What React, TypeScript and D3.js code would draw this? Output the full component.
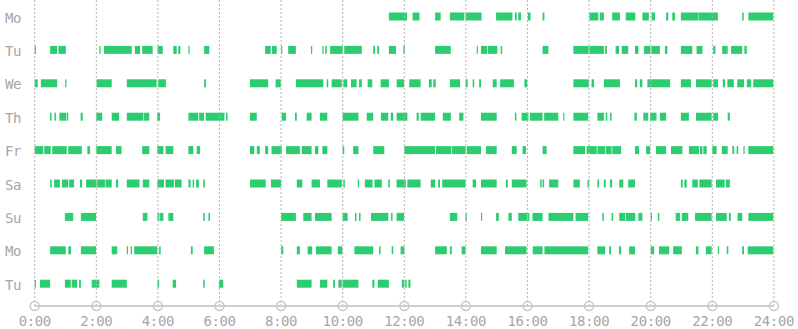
import React from "react";
import * as d3 from "d3";

const dayLabels = ["Mo", "Tu", "We", "Th", "Fr", "Sa", "Su", "Mo", "Tu"];
const tickHours = [0, 2, 4, 6, 8, 10, 12, 14, 16, 18, 20, 22, 24];
const tickLabels = ["0:00", "2:00", "4:00", "6:00", "8:00", "10:00", "12:00", "14:00", "16:00", "18:00", "20:00", "22:00", "24:00"];

const monday1 = [[11.50,12.09],[12.27,12.49],[13.00,13.18],[13.48,13.95],[13.99,14.51],[14.98,15.51],[15.59,15.65],[15.70,15.79],[16.01,16.10],[16.49,16.55],[18.01,18.30],[18.35,18.48],[18.75,19.00],[19.19,19.50],[19.73,19.94],[20.03,20.14],[20.50,20.57],[20.70,20.79],[20.98,21.55],[21.56,22.18],[22.97,23.02],[23.17,23.98]];
const tuesday1 = [[0,0.04],[0.50,0.73],[0.77,1.01],[2.10,2.14],[2.25,3.15],[3.25,3.42],[3.49,3.83],[3.99,4.16],[4.50,4.61],[4.66,4.73],[4.99,5.03],[5.50,5.67],[7.48,7.66],[7.70,7.86],[8.00,8.04],[8.23,8.48],[8.97,9.01],[9.34,9.38],[9.43,9.48],[9.59,10.00],[10.05,10.62],[10.99,11.05],[11.12,11.18],[11.50,11.73],[11.97,12.02],[13.00,13.51],[14.35,14.39],[14.49,14.69],[14.71,15.02],[15.13,15.18],[16.49,16.68],[17.49,17.99],[18.01,18.48],[18.52,18.58],[18.86,18.97],[19.06,19.27],[19.49,19.60],[19.78,19.99],[20.02,20.30],[20.46,20.54],[20.98,21.35],[21.49,21.68],[22.03,22.10],[22.32,22.50],[22.61,22.97],[23.04,23.12]];
const wednesday1 = [[0,0.10],[0.20,0.73],[0.99,1.03],[2.01,2.50],[2.99,3.96],[4.01,4.26],[5.50,5.56],[6.99,7.58],[7.82,7.99],[8.48,9.37],[9.48,9.53],[9.64,9.97],[10.02,10.15],[10.27,10.45],[10.53,10.62],[10.81,10.96],[11.23,11.50],[11.75,11.99],[12.16,12.53],[12.80,12.89],[12.94,13.02],[13.48,13.81],[13.99,14.06],[14.22,14.27],[14.43,14.49],[14.87,15.00],[15.11,15.56],[15.90,15.99],[17.49,17.99],[18.08,18.16],[18.48,19.00],[19.49,19.56],[19.65,19.73],[19.89,20.63],[20.98,21.31],[21.47,21.98],[22.03,22.19],[22.34,22.41],[22.49,22.70],[22.81,23.03],[23.12,23.26],[23.33,23.98]];
const thursday1 = [[0.50,0.55],[0.64,0.69],[0.80,1.02],[1.04,1.09],[1.49,1.56],[2.00,2.19],[2.50,2.74],[2.99,3.53],[3.55,3.72],[3.98,4.07],[4.99,5.31],[5.34,5.50],[5.55,6.16],[6.21,6.26],[6.99,7.21],[8.02,8.16],[8.45,8.51],[8.83,8.99],[9.26,9.50],[10.00,10.51],[10.78,10.99],[11.24,11.48],[11.56,11.64],[11.75,12.10],[12.40,12.47],[12.53,13.00],[13.25,13.51],[13.78,13.92],[14.49,15.00],[15.59,15.64],[15.81,16.03],[16.08,16.49],[16.54,17.00],[17.16,17.19],[17.49,17.97],[18.27,18.48],[18.54,18.59],[18.68,18.73],[19.47,19.55],[19.76,19.92],[19.98,20.19],[20.30,20.50],[20.98,21.24],[21.47,21.98],[22.03,22.19],[22.50,22.57]];
const friday1 = [[0,0.28],[0.31,0.52],[0.57,1.04],[1.09,1.53],[1.71,1.80],[2.00,2.50],[2.64,2.82],[3.49,3.72],[3.98,4.18],[4.25,4.50],[4.99,5.15],[5.26,5.37],[6.99,7.13],[7.21,7.31],[7.48,7.58],[7.69,8.02],[8.16,8.61],[8.67,8.99],[9.10,9.21],[9.34,9.50],[10.00,10.05],[10.34,10.51],[10.99,11.35],[12.00,13.00],[13.03,13.52],[13.54,13.99],[14.03,14.49],[14.65,15.00],[15.49,15.65],[15.84,15.95],[16.49,16.62],[17.49,17.87],[17.92,18.25],[18.27,18.52],[18.54,18.73],[18.75,19.04],[19.49,19.62],[19.85,19.98],[20.17,20.50],[20.66,21.03],[21.24,21.57],[21.60,21.68],[21.71,21.82],[22.00,22.14],[22.31,22.50],[22.65,22.71],[22.79,22.84],[23.01,23.04],[23.17,23.98]];
const saturday1 = [[0.50,0.55],[0.63,0.82],[0.88,1.09],[1.12,1.28],[1.47,1.54],[1.67,2.01],[2.03,2.28],[2.30,2.50],[2.64,2.71],[2.99,3.40],[3.51,3.72],[3.98,4.20],[4.25,4.52],[4.55,4.77],[4.99,5.06],[5.13,5.18],[5.24,5.33],[5.47,5.52],[6.99,7.50],[7.67,8.00],[8.51,8.69],[8.99,9.26],[9.50,9.97],[10.02,10.07],[10.49,10.53],[10.72,10.97],[11.03,11.27],[11.48,11.53],[11.75,12.05],[12.10,12.53],[12.86,13.00],[13.10,13.16],[13.23,13.99],[14.22,14.33],[14.49,15.00],[15.30,15.36],[15.49,15.97],[16.41,16.46],[16.49,16.54],[16.70,17.00],[17.49,17.70],[17.95,18.00],[18.27,18.32],[18.48,18.54],[18.68,18.75],[18.98,19.11],[19.27,19.49],[20.98,21.04],[21.09,21.17],[21.35,21.53],[21.58,21.98],[22.12,22.40],[22.44,22.57]];
const sunday1 = [[0.98,1.25],[1.50,1.99],[3.51,3.66],[3.99,4.05],[4.07,4.18],[4.34,4.50],[5.47,5.52],[5.64,5.69],[8.00,8.48],[8.72,8.99],[9.10,9.64],[10.00,10.16],[10.40,10.45],[10.53,10.58],[10.92,11.48],[11.57,11.62],[11.75,11.99],[13.48,13.72],[13.99,14.03],[14.49,14.51],[14.98,15.07],[15.38,15.49],[15.70,16.00],[16.01,16.06],[16.16,16.49],[16.68,17.49],[17.56,17.97],[18.43,18.48],[18.73,18.78],[18.98,19.17],[19.19,19.50],[19.60,19.73],[20.00,20.04],[20.23,20.28],[20.81,20.95],[21.01,21.22],[21.44,21.98],[22.12,22.47],[22.54,22.60],[22.82,22.97],[23.17,23.98]];
const monday2 = [[0.50,1.01],[1.09,1.18],[1.50,1.99],[2.50,2.68],[2.99,3.03],[3.12,3.15],[3.23,3.98],[4.04,4.09],[5.07,5.13],[5.50,5.82],[8.00,8.07],[8.51,8.61],[8.86,9.01],[9.13,9.64],[9.84,9.99],[10.38,10.99],[11.18,11.23],[11.59,11.64],[11.88,12.00],[13.00,13.38],[13.48,13.54],[13.86,13.99],[14.49,15.00],[15.27,15.97],[16.17,16.49],[16.55,17.97],[18.27,18.52],[18.65,18.71],[18.97,19.04],[19.30,19.49],[20.00,20.11],[20.27,20.60],[20.73,21.01],[21.47,21.55],[21.79,21.98],[22.18,22.22],[22.47,22.52],[22.97,23.03],[23.15,23.98]];
const tuesday2 = [[0,0.04],[0.17,0.50],[0.98,1.17],[1.20,1.38],[1.44,1.50],[1.85,2.10],[2.50,2.99],[3.99,4.04],[4.48,4.59],[5.47,5.52],[5.98,6.12],[8.51,8.99],[9.26,9.50],[9.69,9.75],[9.86,9.97],[10.00,10.51],[10.96,11.03],[11.14,11.50],[11.92,12.00],[12.03,12.08],[12.13,12.20]];

const rows = [monday1, tuesday1, wednesday1, thursday1, friday1, saturday1, sunday1, monday2, tuesday2];

const W = 798;
const H = 329;
const axisY = 306;
const barH = 8;
const fontStack = "'DejaVu Sans Mono', 'Liberation Mono', monospace";

export default function App() {
  const x = d3.scaleLinear().domain([0, 24]).range([34.7, 773.9]);
  const y = d3.scalePoint<number>().domain(d3.range(rows.length)).range([16.5, 283.7]);

  return (
    <svg width={W} height={H} style={{ position: "absolute", left: 0, top: 0, background: "#fff" }}>
      {rows.map((segs, i) => (
        <g key={"r" + i}>
          {segs.map(([s, e], j) => (
            <rect
              key={j}
              x={x(s)}
              y={(y(i) as number) - barH / 2}
              width={Math.max(x(e) - x(s), 1.2)}
              height={barH}
              fill="#2ecc71"
            />
          ))}
        </g>
      ))}
      {tickHours.map((h) => (
        <line key={"g" + h} x1={x(h)} x2={x(h)} y1={0} y2={axisY} stroke="#b5b5b5" strokeWidth={1} strokeDasharray="2,2" />
      ))}
      {dayLabels.map((d, i) => (
        <text key={"d" + i} x={5} y={(y(i) as number) + 6} fontFamily={fontStack} fontSize={14} letterSpacing={-0.4} fill="#a6a6a6">
          {d}
        </text>
      ))}
      <line x1={x(0)} x2={x(24)} y1={axisY} y2={axisY} stroke="#cfcfcf" strokeWidth={2} />
      {tickHours.map((h, i) => (
        <g key={"t" + h}>
          <circle cx={x(h)} cy={axisY} r={4.5} fill="none" stroke="#c8c8c8" strokeWidth={1.5} />
          <text x={x(h)} y={326} textAnchor="middle" fontFamily={fontStack} fontSize={14} letterSpacing={-0.4} fill="#a6a6a6">
            {tickLabels[i]}
          </text>
        </g>
      ))}
    </svg>
  );
}
